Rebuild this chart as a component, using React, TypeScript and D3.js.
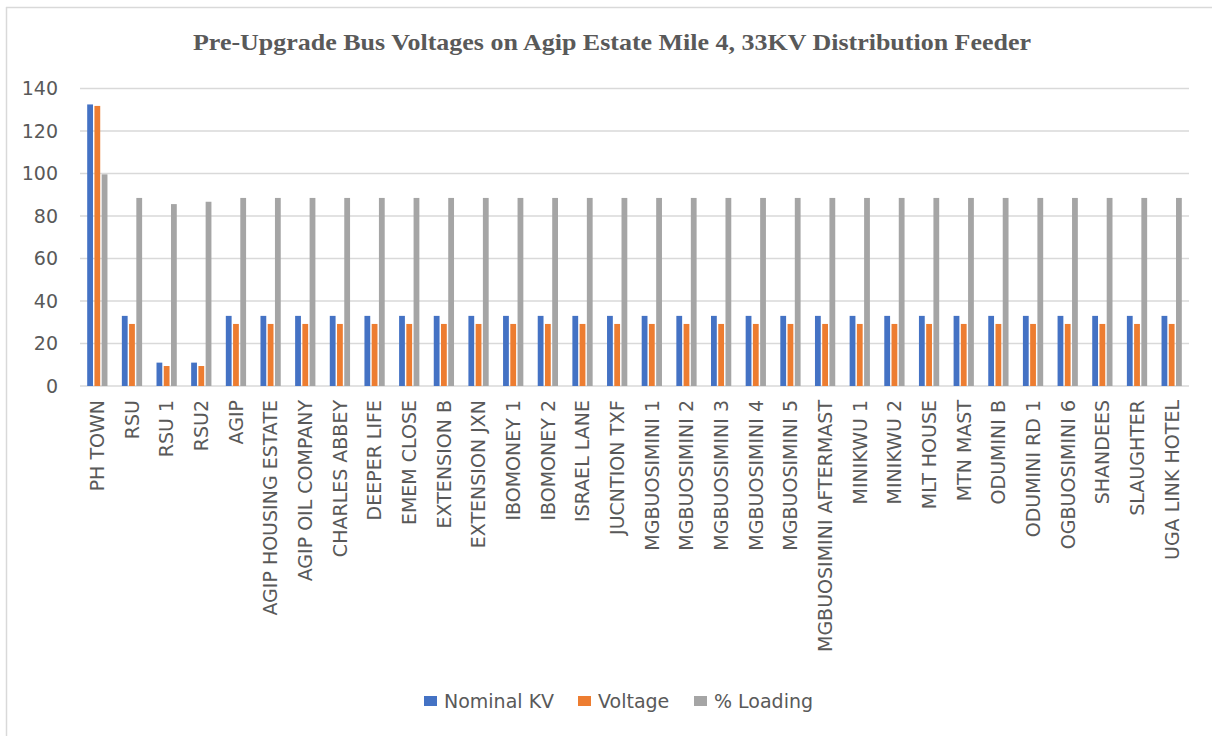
import * as d3 from 'd3';

const categories = [
  'PH TOWN', 'RSU', 'RSU 1', 'RSU2', 'AGIP', 'AGIP HOUSING ESTATE', 'AGIP OIL COMPANY',
  'CHARLES ABBEY', 'DEEPER LIFE', 'EMEM CLOSE', 'EXTENSION B', 'EXTENSION JXN',
  'IBOMONEY 1', 'IBOMONEY 2', 'ISRAEL LANE', 'JUCNTION TXF', 'MGBUOSIMINI 1',
  'MGBUOSIMINI 2', 'MGBUOSIMINI 3', 'MGBUOSIMINI 4', 'MGBUOSIMINI 5',
  'MGBUOSIMINI AFTERMAST', 'MINIKWU 1', 'MINIKWU 2', 'MLT HOUSE', 'MTN MAST',
  'ODUMINI B', 'ODUMINI RD 1', 'OGBUOSIMINI 6', 'SHANDEES', 'SLAUGHTER', 'UGA LINK HOTEL',
];

const nominalKV = [
  132.5, 33, 11, 11, 33, 33, 33, 33, 33, 33, 33, 33, 33, 33, 33, 33,
  33, 33, 33, 33, 33, 33, 33, 33, 33, 33, 33, 33, 33, 33, 33, 33,
];
const voltage = [
  131.8, 29.2, 9.4, 9.4, 29.2, 29.2, 29.2, 29.2, 29.2, 29.2, 29.2, 29.2, 29.2, 29.2, 29.2, 29.2,
  29.2, 29.2, 29.2, 29.2, 29.2, 29.2, 29.2, 29.2, 29.2, 29.2, 29.2, 29.2, 29.2, 29.2, 29.2, 29.2,
];
const loading = [
  99.6, 88.5, 85.6, 86.7, 88.5, 88.5, 88.5, 88.5, 88.5, 88.5, 88.5, 88.5, 88.5, 88.5, 88.5, 88.5,
  88.5, 88.5, 88.5, 88.5, 88.5, 88.5, 88.5, 88.5, 88.5, 88.5, 88.5, 88.5, 88.5, 88.5, 88.5, 88.5,
];

const seriesNames = ['Nominal KV', 'Voltage', '% Loading'];
const seriesColors = ['#4472C4', '#ED7D31', '#A5A5A5'];
const yTicks = [0, 20, 40, 60, 80, 100, 120, 140];
const title = 'Pre-Upgrade Bus Voltages on Agip Estate Mile 4, 33KV Distribution Feeder';

const W = 1212;
const H = 736;
const FONT = '"DejaVu Sans", sans-serif';
const TEXT = '#595959';
const GRID = '#D9D9D9';

export default function App() {
  const series = [nominalKV, voltage, loading];

  const x0 = d3.scaleBand<string>().domain(categories).range([80, 1189]).paddingInner(0.415).paddingOuter(0.2075);
  const x1 = d3.scaleBand<string>().domain(seriesNames).range([0, x0.bandwidth()]).paddingInner(0.2);
  const y = d3.scaleLinear().domain([0, 140]).range([386, 88.5]);

  // legend items laid out left to right
  const legendX = [424, 578, 694];

  return (
    <svg width={W} height={H} style={{ position: 'absolute', left: 0, top: 0, background: '#fff' }}>
      <rect x={0} y={0} width={W} height={H} fill="#fff" />
      <line x1={6} y1={7.5} x2={W} y2={7.5} stroke={GRID} strokeWidth={1.5} />
      <line x1={6.5} y1={7} x2={6.5} y2={H} stroke={GRID} strokeWidth={1.5} />

      <text
        x={W / 2 + 6}
        y={50}
        textAnchor="middle"
        fontFamily='"Liberation Serif", "Times New Roman", serif'
        fontWeight="bold"
        fontSize={24}
        fill={TEXT}
        textLength={838}
        lengthAdjust="spacingAndGlyphs"
      >
        {title}
      </text>

      {yTicks.map((t) => (
        <g key={t}>
          <line x1={80} x2={1189} y1={y(t)} y2={y(t)} stroke={GRID} strokeWidth={1.5} />
          <text x={58} y={y(t)} dy="0.36em" textAnchor="end" fontFamily={FONT} fontSize={19} fill={TEXT}>
            {t}
          </text>
        </g>
      ))}

      {categories.map((c, i) => (
        <g key={c} transform={`translate(${x0(c)},0)`}>
          {seriesNames.map((s, k) => (
            <rect
              key={s}
              x={x1(s)}
              y={y(series[k][i])}
              width={x1.bandwidth()}
              height={y(0) - y(series[k][i])}
              fill={seriesColors[k]}
            />
          ))}
        </g>
      ))}

      {categories.map((c) => {
        const cx = (x0(c) ?? 0) + x0.bandwidth() / 2;
        return (
          <text
            key={c}
            transform={`translate(${cx},400) rotate(-90)`}
            dy="0.36em"
            textAnchor="end"
            fontFamily={FONT}
            fontSize={19}
            fill={TEXT}
          >
            {c}
          </text>
        );
      })}

      {seriesNames.map((s, k) => (
        <g key={s} transform={`translate(${legendX[k]},701)`}>
          <rect x={0} y={-5} width={13} height={10} fill={seriesColors[k]} />
          <text x={20} y={0} dy="0.36em" fontFamily={FONT} fontSize={19} fill={TEXT}>
            {s}
          </text>
        </g>
      ))}
    </svg>
  );
}
